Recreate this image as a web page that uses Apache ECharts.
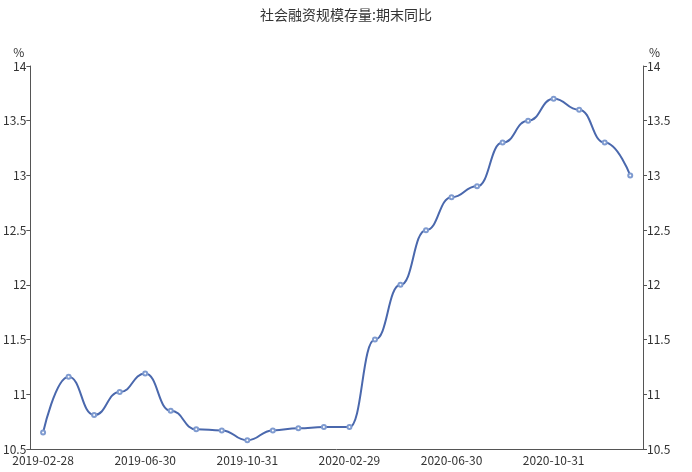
<!DOCTYPE html>
<html lang="zh">
<head>
    <meta charset="UTF-8">
    <title>社会融资规模存量</title>
    <script type="text/javascript" src="https://cdn.jsdelivr.net/npm/echarts@6/dist/echarts.min.js"></script>
    <style type="text/css">
        html, body { margin: 0; padding: 0; background: #ffffff; }
        #main { width: 692px; height: 472px; }
    </style>
</head>
<body>
<div id="main"></div>
<script type="text/javascript">
    // 月末日期
    var dates = [
        '2019-02-28', '2019-03-31', '2019-04-30', '2019-05-31', '2019-06-30', '2019-07-31',
        '2019-08-31', '2019-09-30', '2019-10-31', '2019-11-30', '2019-12-31', '2020-01-31',
        '2020-02-29', '2020-03-31', '2020-04-30', '2020-05-31', '2020-06-30', '2020-07-31',
        '2020-08-31', '2020-09-30', '2020-10-31', '2020-11-30', '2020-12-31', '2021-01-31'
    ];
    // 期末同比 %
    var yoy = [
        10.65, 11.16, 10.81, 11.02, 11.19, 10.85,
        10.68, 10.67, 10.58, 10.67, 10.69, 10.70,
        10.70, 11.50, 12.00, 12.50, 12.80, 12.90,
        13.30, 13.50, 13.70, 13.60, 13.30, 13.00
    ];
    var yTicks = { min: 10.5, max: 14, interval: 0.5 };

    var chart = echarts.init(document.getElementById('main'));
    var textColor = '#333';
    var axisColor = '#555';

    function yAxis(pos) {
        return {
            type: 'value',
            position: pos,
            name: '%',
            nameGap: 8,
            nameTextStyle: {
                color: textColor,
                fontSize: 12,
                align: pos === 'left' ? 'right' : 'left',
                padding: pos === 'left' ? [0, 6, 0, 0] : [0, 0, 0, 6]
            },
            min: yTicks.min,
            max: yTicks.max,
            interval: yTicks.interval,
            axisLine: { show: true, lineStyle: { color: axisColor } },
            axisTick: { show: true, length: 4, lineStyle: { color: axisColor } },
            axisLabel: { color: textColor, fontSize: 12, margin: 4 },
            splitLine: { show: false }
        };
    }

    chart.setOption({
        textStyle: { fontFamily: '"Noto Sans CJK SC", "Noto Sans", sans-serif' },
        title: {
            text: '社会融资规模存量:期末同比',
            left: 'center',
            top: 3,
            textStyle: { color: textColor, fontSize: 14, fontWeight: 'normal' }
        },
        grid: { left: 28, right: 49, top: 66, bottom: 23 },
        xAxis: {
            type: 'category',
            data: dates,
            boundaryGap: true,
            axisLine: { lineStyle: { color: axisColor } },
            axisTick: { interval: 3, length: 4, lineStyle: { color: axisColor } },
            axisLabel: { interval: 3, color: textColor, fontSize: 12, margin: 5 }
        },
        yAxis: [yAxis('left'), yAxis('right')],
        series: [
            {
                name: '社会融资规模存量:期末同比',
                type: 'line',
                data: yoy,
                smooth: 0.5,
                smoothMonotone: 'x',
                symbol: 'emptyCircle',
                symbolSize: 4,
                lineStyle: { color: '#4a68ad', width: 2 },
                itemStyle: { color: '#7f9bd0', borderWidth: 1 }
            }
        ]
    });
</script>
</body>
</html>
